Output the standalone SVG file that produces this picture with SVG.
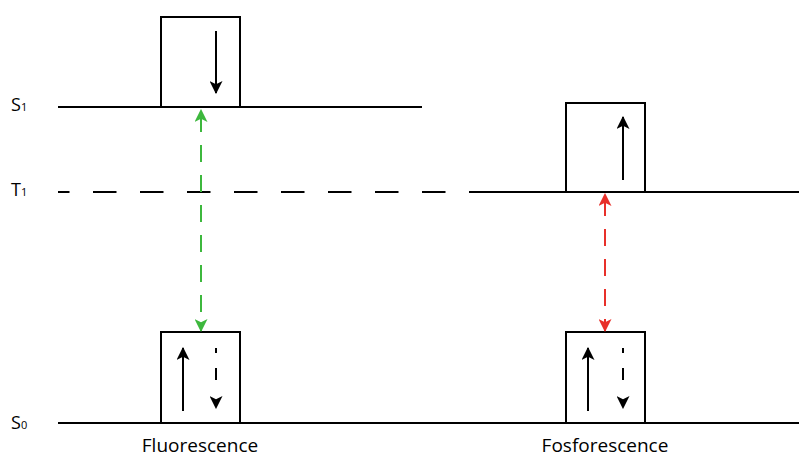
<svg xmlns="http://www.w3.org/2000/svg" width="799" height="457" viewBox="0 0 799 457">
  <style>
    .lvl { stroke: #000; stroke-width: 2; fill: none; }
    .box { stroke: #000; stroke-width: 2; fill: #fff; }
    .spin { stroke: #000; stroke-width: 2; fill: none; }
    .spin-dash { stroke-dasharray: 5 15 12 60; }
    .lbl { font-family: "Open Sans", "Liberation Sans", sans-serif; font-size: 18px; fill: #000; }
    .cap { font-family: "Open Sans", "Liberation Sans", sans-serif; font-size: 19px; fill: #000; }
    .sub { font-size: 11px; }
  </style>
  <defs>
    <marker id="ahK" viewBox="0 0 12 12" refX="11" refY="6" markerWidth="13" markerHeight="13" markerUnits="userSpaceOnUse" orient="auto-start-reverse">
      <path d="M0,0 L12,6 L0,12 L3,6 Z" fill="#000"/>
    </marker>
    <marker id="ahG" viewBox="0 0 12 12" refX="11" refY="6" markerWidth="13" markerHeight="13" markerUnits="userSpaceOnUse" orient="auto-start-reverse">
      <path d="M0,0 L12,6 L0,12 L3,6 Z" fill="#3db83d"/>
    </marker>
    <marker id="ahR" viewBox="0 0 12 12" refX="11" refY="6" markerWidth="13" markerHeight="13" markerUnits="userSpaceOnUse" orient="auto-start-reverse">
      <path d="M0,0 L12,6 L0,12 L3,6 Z" fill="#e8302a"/>
    </marker>
  </defs>

  <rect width="799" height="457" fill="#fff"/>

  <!-- energy levels -->
  <g id="levels">
    <line class="lvl" x1="58" y1="107" x2="422" y2="107"/>
    <line class="lvl" x1="58" y1="192" x2="470" y2="192" stroke-dasharray="23.5 23.5" stroke-dashoffset="12"/>
    <line class="lvl" x1="470" y1="192" x2="799" y2="192"/>
    <line class="lvl" x1="58" y1="423" x2="799" y2="423"/>
  </g>

  <!-- level labels -->
  <g id="labels">
    <text class="lbl" x="11" y="111">S<tspan class="sub">1</tspan></text>
    <text class="lbl" x="11" y="196">T<tspan class="sub">1</tspan></text>
    <text class="lbl" x="11" y="429">S<tspan class="sub">0</tspan></text>
    <text class="cap" x="200" y="452" text-anchor="middle">Fluorescence</text>
    <text class="cap" x="605" y="452" text-anchor="middle">Fosforescence</text>
  </g>

  <!-- excited singlet, fluorescence side -->
  <g id="s1-box">
    <rect class="box" x="161" y="17" width="79" height="90"/>
    <line class="spin" x1="216" y1="31" x2="216" y2="93" marker-end="url(#ahK)"/>
  </g>

  <!-- triplet, phosphorescence side -->
  <g id="t1-box">
    <rect class="box" x="566" y="103" width="79" height="89"/>
    <line class="spin" x1="623" y1="180" x2="623" y2="117" marker-end="url(#ahK)"/>
  </g>

  <!-- ground state, fluorescence side -->
  <g id="s0-box-left">
    <rect class="box" x="161" y="332" width="79" height="91"/>
    <line class="spin" x1="183" y1="411" x2="183" y2="348" marker-end="url(#ahK)"/>
    <line class="spin spin-dash" x1="216" y1="348" x2="216" y2="408" marker-end="url(#ahK)"/>
  </g>

  <!-- ground state, phosphorescence side -->
  <g id="s0-box-right">
    <rect class="box" x="566" y="332" width="79" height="91"/>
    <line class="spin" x1="588" y1="411" x2="588" y2="348" marker-end="url(#ahK)"/>
    <line class="spin spin-dash" x1="623" y1="348" x2="623" y2="408" marker-end="url(#ahK)"/>
  </g>

  <!-- transitions -->
  <g id="connectors">
    <line x1="201" y1="110" x2="201" y2="331" stroke="#3db83d" stroke-width="2" stroke-dasharray="17 13" stroke-dashoffset="-5" marker-start="url(#ahG)" marker-end="url(#ahG)"/>
    <line x1="605" y1="194" x2="605" y2="331" stroke="#e8302a" stroke-width="2" stroke-dasharray="17 13" stroke-dashoffset="-5" marker-start="url(#ahR)" marker-end="url(#ahR)"/>
  </g>
</svg>
